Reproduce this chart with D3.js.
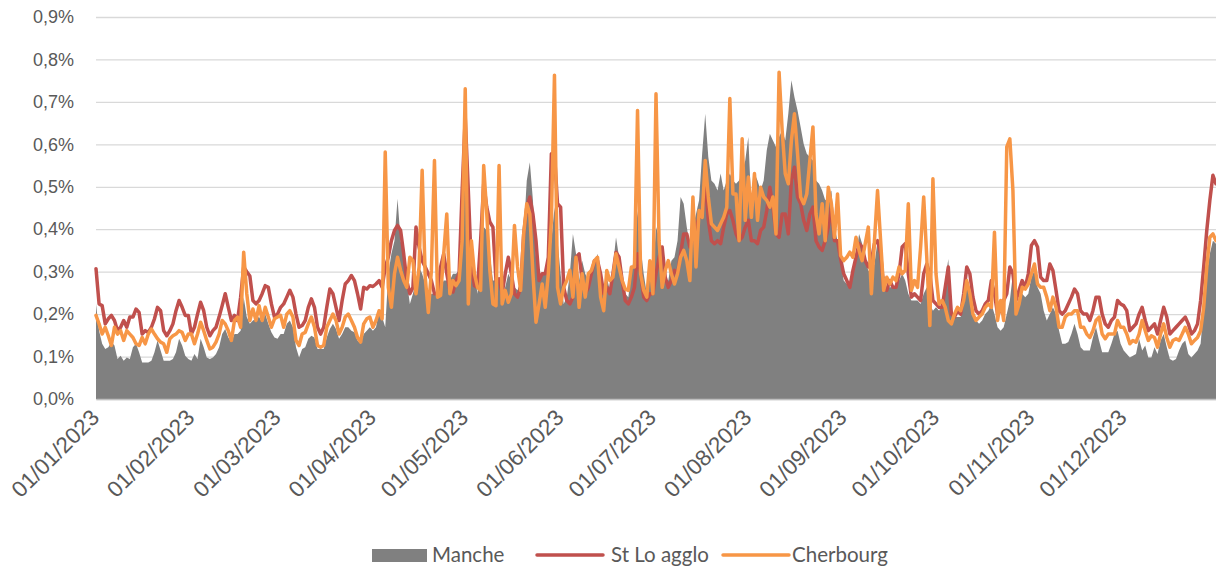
<!DOCTYPE html>
<html><head><meta charset="utf-8">
<script src="https://cdn.jsdelivr.net/npm/d3@7"></script>
<style>body{margin:0;background:#fff;} svg{display:block;font-family:Lato,"Open Sans",sans-serif;}</style>
</head><body><svg id="c" width="1216" height="569"></svg>
<script>
const startDate = "2023-01-01";
const seriesNames = ["Manche", "St Lo agglo", "Cherbourg"];
const seriesColors = ["#808080", "#c0504d", "#f79646"];
const yTicks = [0, 0.1, 0.2, 0.3, 0.4, 0.5, 0.6, 0.7, 0.8, 0.9];
const monthTicks = ["2023-01-01","2023-02-01","2023-03-01","2023-04-01","2023-05-01","2023-06-01","2023-07-01","2023-08-01","2023-09-01","2023-10-01","2023-11-01","2023-12-01"];

// daily values in %
const manche = [
0.224,0.161,0.130,0.118,0.122,0.134,0.126,0.094,0.102,0.090,
0.098,0.094,0.122,0.130,0.110,0.086,0.086,0.086,0.090,0.110,
0.138,0.114,0.090,0.090,0.090,0.094,0.110,0.142,0.126,0.102,
0.094,0.090,0.106,0.094,0.142,0.122,0.098,0.094,0.098,0.106,
0.122,0.153,0.165,0.145,0.134,0.153,0.153,0.161,0.240,0.193,
0.177,0.185,0.189,0.193,0.181,0.200,0.177,0.157,0.145,0.142,
0.153,0.153,0.177,0.185,0.169,0.122,0.098,0.118,0.122,0.142,
0.149,0.145,0.118,0.118,0.118,0.145,0.165,0.177,0.165,0.142,
0.153,0.169,0.169,0.161,0.157,0.138,0.130,0.153,0.161,0.169,
0.161,0.169,0.208,0.193,0.169,0.295,0.342,0.373,0.472,0.373,
0.334,0.279,0.224,0.248,0.279,0.311,0.295,0.271,0.232,0.248,
0.248,0.259,0.263,0.279,0.279,0.279,0.295,0.295,0.303,0.405,
0.660,0.413,0.358,0.295,0.248,0.334,0.405,0.397,0.342,0.279,
0.279,0.279,0.248,0.263,0.295,0.279,0.263,0.256,0.279,0.389,
0.515,0.558,0.468,0.334,0.279,0.295,0.295,0.311,0.373,0.452,
0.373,0.295,0.224,0.240,0.295,0.389,0.342,0.279,0.326,0.295,
0.279,0.295,0.318,0.342,0.295,0.248,0.287,0.256,0.311,0.381,
0.334,0.279,0.248,0.240,0.295,0.342,0.444,0.358,0.295,0.248,
0.295,0.287,0.405,0.381,0.350,0.279,0.279,0.326,0.334,0.373,
0.476,0.460,0.405,0.358,0.405,0.436,0.468,0.578,0.672,0.570,
0.515,0.507,0.491,0.531,0.491,0.515,0.531,0.515,0.507,0.515,
0.531,0.562,0.617,0.452,0.531,0.515,0.491,0.515,0.586,0.625,
0.609,0.594,0.617,0.633,0.609,0.672,0.751,0.711,0.680,0.641,
0.601,0.578,0.570,0.562,0.515,0.507,0.491,0.468,0.476,0.491,
0.405,0.373,0.326,0.279,0.271,0.263,0.295,0.334,0.389,0.366,
0.326,0.303,0.295,0.318,0.373,0.358,0.295,0.263,0.263,0.263,
0.263,0.279,0.295,0.279,0.248,0.232,0.232,0.232,0.224,0.248,
0.263,0.224,0.208,0.216,0.208,0.224,0.279,0.330,0.200,0.193,
0.193,0.193,0.232,0.271,0.256,0.208,0.185,0.177,0.185,0.200,
0.208,0.224,0.200,0.169,0.161,0.169,0.200,0.232,0.295,0.216,
0.240,0.248,0.240,0.248,0.287,0.303,0.263,0.248,0.208,0.185,
0.200,0.216,0.200,0.161,0.130,0.130,0.134,0.153,0.177,0.153,
0.122,0.114,0.114,0.114,0.145,0.169,0.138,0.110,0.110,0.110,
0.130,0.153,0.161,0.130,0.114,0.106,0.098,0.102,0.106,0.142,
0.114,0.126,0.098,0.098,0.122,0.106,0.138,0.153,0.122,0.094,
0.090,0.094,0.114,0.130,0.138,0.106,0.098,0.106,0.114,0.130,
0.216,0.295,0.342,0.373,0.366];

const stlo = [
0.307,0.224,0.220,0.177,0.189,0.197,0.185,0.161,0.169,0.185,
0.169,0.193,0.193,0.212,0.204,0.153,0.161,0.157,0.169,0.189,
0.216,0.208,0.161,0.149,0.161,0.177,0.208,0.232,0.216,0.197,
0.197,0.153,0.169,0.200,0.228,0.208,0.169,0.149,0.161,0.169,
0.193,0.220,0.248,0.216,0.185,0.197,0.185,0.240,0.311,0.300,
0.290,0.232,0.224,0.232,0.248,0.267,0.263,0.224,0.193,0.200,
0.216,0.224,0.240,0.256,0.240,0.200,0.169,0.173,0.185,0.216,
0.236,0.216,0.169,0.153,0.169,0.216,0.259,0.248,0.216,0.185,
0.232,0.271,0.279,0.291,0.279,0.248,0.212,0.263,0.259,0.267,
0.265,0.271,0.279,0.263,0.311,0.334,0.373,0.397,0.409,0.397,
0.342,0.279,0.248,0.263,0.405,0.358,0.326,0.311,0.295,0.279,
0.248,0.248,0.311,0.342,0.295,0.256,0.252,0.279,0.295,0.491,
0.664,0.491,0.311,0.267,0.263,0.373,0.507,0.452,0.417,0.405,
0.279,0.283,0.248,0.295,0.334,0.295,0.248,0.240,0.263,0.389,
0.452,0.476,0.436,0.373,0.279,0.295,0.295,0.334,0.578,0.578,
0.460,0.452,0.263,0.232,0.224,0.240,0.334,0.342,0.279,0.248,
0.263,0.295,0.326,0.326,0.295,0.248,0.263,0.248,0.295,0.346,
0.334,0.279,0.232,0.224,0.240,0.263,0.342,0.295,0.240,0.232,
0.248,0.248,0.295,0.334,0.358,0.287,0.263,0.279,0.303,0.295,
0.342,0.389,0.389,0.358,0.381,0.405,0.428,0.436,0.515,0.421,
0.373,0.366,0.373,0.366,0.405,0.436,0.444,0.421,0.389,0.373,
0.381,0.405,0.421,0.373,0.373,0.366,0.397,0.405,0.444,0.499,
0.452,0.389,0.381,0.436,0.436,0.389,0.515,0.546,0.476,0.460,
0.421,0.397,0.436,0.452,0.373,0.358,0.350,0.373,0.405,0.452,
0.373,0.373,0.330,0.295,0.279,0.263,0.303,0.334,0.366,0.358,
0.326,0.311,0.326,0.366,0.373,0.342,0.263,0.256,0.279,0.263,
0.263,0.295,0.358,0.366,0.295,0.240,0.248,0.240,0.232,0.295,
0.318,0.295,0.232,0.224,0.216,0.216,0.263,0.311,0.200,0.193,
0.208,0.200,0.248,0.311,0.295,0.240,0.208,0.200,0.208,0.224,
0.232,0.279,0.248,0.200,0.208,0.232,0.248,0.311,0.295,0.232,
0.256,0.279,0.263,0.295,0.362,0.373,0.358,0.287,0.279,0.279,
0.318,0.303,0.256,0.208,0.200,0.208,0.224,0.240,0.259,0.248,
0.208,0.200,0.200,0.185,0.208,0.240,0.240,0.200,0.177,0.169,
0.185,0.193,0.232,0.224,0.220,0.208,0.161,0.169,0.177,0.200,
0.216,0.185,0.161,0.169,0.177,0.153,0.185,0.216,0.193,0.153,
0.161,0.169,0.177,0.185,0.193,0.177,0.153,0.161,0.177,0.232,
0.311,0.397,0.468,0.527,0.507];

const cherbourg = [
0.197,0.177,0.153,0.169,0.149,0.126,0.169,0.153,0.161,0.138,
0.161,0.153,0.145,0.130,0.126,0.145,0.130,0.153,0.165,0.153,
0.142,0.134,0.130,0.110,0.142,0.149,0.153,0.161,0.157,0.138,
0.153,0.153,0.130,0.153,0.181,0.161,0.138,0.118,0.122,0.134,
0.153,0.185,0.177,0.161,0.138,0.185,0.193,0.169,0.346,0.248,
0.185,0.212,0.185,0.220,0.185,0.216,0.193,0.169,0.189,0.193,
0.197,0.169,0.200,0.208,0.193,0.138,0.126,0.153,0.157,0.177,
0.193,0.169,0.126,0.122,0.126,0.169,0.185,0.200,0.185,0.153,
0.169,0.193,0.200,0.185,0.169,0.145,0.134,0.177,0.189,0.193,
0.169,0.185,0.208,0.189,0.582,0.263,0.216,0.295,0.334,0.303,
0.279,0.263,0.334,0.326,0.248,0.311,0.539,0.287,0.204,0.303,
0.562,0.240,0.244,0.342,0.436,0.248,0.279,0.267,0.279,0.373,
0.731,0.224,0.373,0.295,0.263,0.256,0.550,0.436,0.303,0.224,
0.220,0.550,0.224,0.256,0.228,0.248,0.409,0.311,0.256,0.389,
0.460,0.436,0.295,0.181,0.224,0.271,0.216,0.295,0.421,0.763,
0.263,0.224,0.263,0.279,0.303,0.240,0.334,0.216,0.295,0.240,
0.295,0.303,0.326,0.334,0.240,0.208,0.303,0.279,0.287,0.342,
0.311,0.279,0.259,0.256,0.311,0.311,0.680,0.295,0.256,0.240,
0.326,0.248,0.719,0.373,0.263,0.303,0.326,0.295,0.271,0.295,
0.334,0.350,0.326,0.279,0.476,0.311,0.444,0.428,0.562,0.476,
0.413,0.405,0.397,0.413,0.428,0.452,0.708,0.483,0.483,0.373,
0.613,0.421,0.523,0.428,0.531,0.421,0.499,0.476,0.468,0.452,
0.476,0.389,0.770,0.633,0.531,0.507,0.609,0.672,0.578,0.476,
0.460,0.483,0.562,0.641,0.436,0.389,0.460,0.373,0.499,0.460,
0.381,0.483,0.338,0.326,0.334,0.346,0.334,0.381,0.350,0.326,
0.366,0.405,0.248,0.373,0.491,0.373,0.256,0.287,0.271,0.287,
0.279,0.311,0.295,0.303,0.460,0.256,0.279,0.263,0.358,0.476,
0.334,0.173,0.519,0.295,0.224,0.232,0.216,0.185,0.177,0.200,
0.216,0.208,0.232,0.279,0.248,0.200,0.185,0.193,0.200,0.216,
0.224,0.216,0.393,0.185,0.232,0.185,0.594,0.613,0.491,0.200,
0.224,0.263,0.259,0.271,0.295,0.318,0.271,0.263,0.263,0.240,
0.208,0.240,0.216,0.169,0.169,0.193,0.200,0.200,0.208,0.208,
0.169,0.169,0.153,0.145,0.161,0.185,0.193,0.153,0.142,0.153,
0.153,0.153,0.185,0.169,0.169,0.153,0.130,0.138,0.134,0.153,
0.185,0.161,0.138,0.149,0.145,0.122,0.153,0.177,0.145,0.122,
0.138,0.142,0.138,0.153,0.169,0.153,0.130,0.138,0.145,0.161,
0.216,0.311,0.381,0.389,0.373];

const svg = d3.select("#c");
const parse = d3.utcParse("%Y-%m-%d");
const t0 = parse(startDate);
const dates = manche.map((_, i) => d3.utcDay.offset(t0, i));
const x = d3.scaleUtc().domain([dates[0], dates[dates.length - 1]]).range([96, 1216]);
const y = d3.scaleLinear().domain([0, 0.9]).range([399, 17]);
const fmtY = v => d3.format(".1f")(v).replace(".", ",") + "%";

// gridlines
const yAxis = d3.axisLeft(y).tickValues(yTicks).tickSize(-(1216 - 96)).tickFormat(fmtY).tickPadding(22);
const gy = svg.append("g").attr("transform", "translate(96,0)").call(yAxis);
gy.select(".domain").remove();
gy.selectAll(".tick line").attr("stroke", "#d9d9d9").attr("stroke-width", 1.3);
gy.selectAll(".tick text").attr("fill", "#595959").attr("font-size", 18);

// area
const area = d3.area().x((d, i) => x(dates[i])).y0(y(0)).y1(d => y(d));
svg.append("path").datum(manche).attr("d", area).attr("fill", seriesColors[0]);

const line = d3.line().x((d, i) => x(dates[i])).y(d => y(d));
[stlo, cherbourg].forEach((s, k) => {
  svg.append("path").datum(s).attr("d", line).attr("fill", "none")
    .attr("stroke", seriesColors[k + 1]).attr("stroke-width", 3.5)
    .attr("stroke-linejoin", "round").attr("stroke-linecap", "round");
});

// x axis
const xAxis = d3.axisBottom(x).tickValues(monthTicks.map(parse)).tickSize(0).tickFormat(d3.utcFormat("%d/%m/%Y"));
const gx = svg.append("g").attr("transform", "translate(0,399)").call(xAxis);
gx.select(".domain").attr("stroke", "#bfbfbf").attr("stroke-width", 1.3);
gx.selectAll(".tick text").attr("fill", "#595959").attr("font-size", 22.5)
  .attr("text-anchor", "end").attr("dy", 0).attr("y", 0)
  .attr("transform", "translate(4,20) rotate(-45)");

// legend
const leg = svg.append("g").attr("font-size", 20.5).attr("fill", "#595959");
const items = [
  {x: 372, tx: 432, name: seriesNames[0], type: "rect", color: seriesColors[0]},
  {x: 537, tx: 611, name: seriesNames[1], type: "line", color: seriesColors[1]},
  {x: 723, tx: 792, name: seriesNames[2], type: "line", color: seriesColors[2]}
];
items.forEach(it => {
  if (it.type === "rect") {
    leg.append("rect").attr("x", it.x).attr("y", 549).attr("width", 55).attr("height", 13).attr("fill", it.color);
  } else {
    leg.append("line").attr("x1", it.x).attr("x2", it.x + 66).attr("y1", 555).attr("y2", 555)
      .attr("stroke", it.color).attr("stroke-width", 3.5).attr("stroke-linecap", "round");
  }
  leg.append("text").attr("x", it.tx).attr("y", 562).attr("fill", "#595959").text(it.name);
});
</script></body></html>
